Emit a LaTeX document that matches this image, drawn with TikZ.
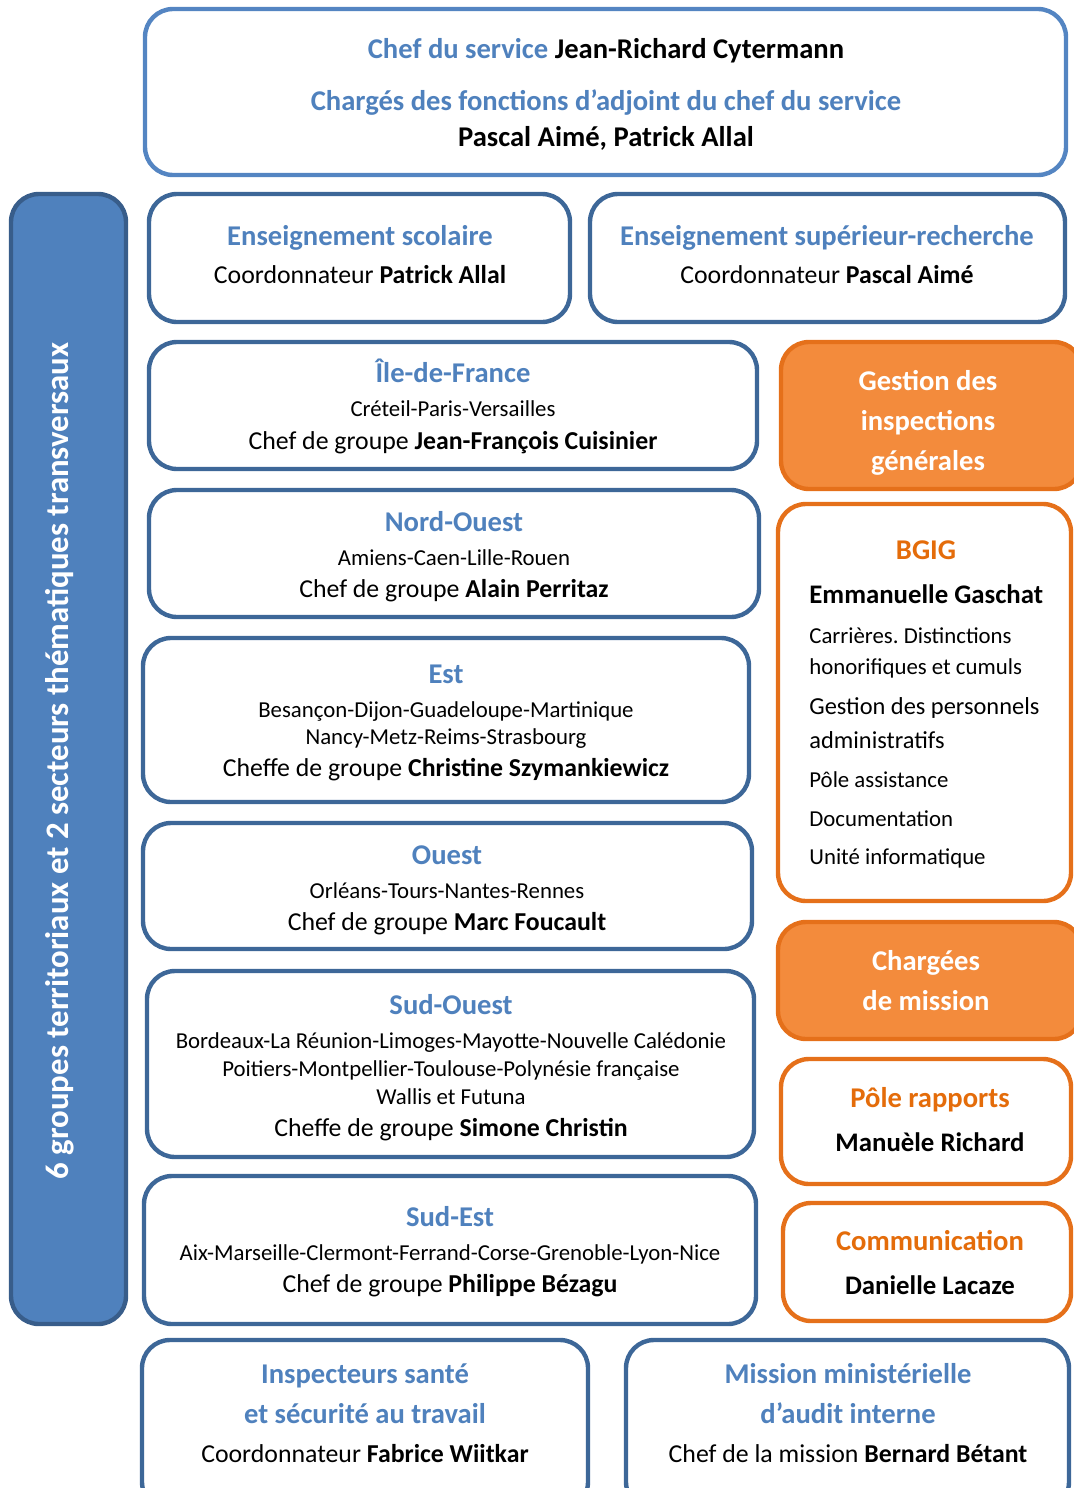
\documentclass[tikz,border=0pt]{standalone}
\usepackage{fontspec}
\setmainfont{Carlito}
\usetikzlibrary{positioning}
\frenchspacing

\definecolor{ttlblue}{HTML}{4F81BD}
\definecolor{lineblue}{HTML}{3D6798}
\definecolor{topblue}{HTML}{5485C2}
\definecolor{barfill}{HTML}{4F81BD}
\definecolor{bardraw}{HTML}{385D8A}
\definecolor{orfill}{HTML}{F38B3C}
\definecolor{ordraw}{HTML}{E5701A}
\definecolor{ortext}{HTML}{E46C0A}

\tikzset{
 box/.style={line width=2.2pt, rounded corners=14pt},
 topbox/.style={box, draw=topblue, fill=white},
 bluebox/.style={box, draw=lineblue, fill=white},
 sidebar/.style={box, draw=bardraw, fill=barfill},
 orbox/.style={box, draw=ordraw, fill=white},
 orfull/.style={box, draw=ordraw, fill=orfill},
 ttl/.style={font=\bfseries\fontsize{14.3}{17}\selectfont, text=ttlblue,
   anchor=base, yshift=-4.4pt, inner sep=0pt},
 ortl/.style={ttl, text=ortext},
 wtl/.style={ttl, text=white},
 who/.style={font=\fontsize{12.9}{15}\selectfont, anchor=base, yshift=-3.9pt, inner sep=0pt},
 boss/.style={who, font=\bfseries\fontsize{13.4}{16}\selectfont},
 town/.style={font=\fontsize{11.4}{13}\selectfont, anchor=base, yshift=-3.4pt, inner sep=0pt},
 item/.style={town, anchor=base west},
 bigitem/.style={town, font=\fontsize{12.2}{15}\selectfont, anchor=base west},
}

\begin{document}
\begin{tikzpicture}[x=0.5pt,y=-0.5pt]
\useasboundingbox (0,0) rectangle (1074,1488);
\clip (0,0) rectangle (1074,1488);

% direction du service
\draw[topbox] (145,9) rectangle (1066,175);
\node[ttl] (chef) at (606,50) {Chef du service \textcolor{black}{Jean-Richard Cytermann}};
\node[ttl] (adj) at (606,102) {Chargés des fonctions d’adjoint du chef du service};
\node[ttl, text=black] (adjn) at (606,138) {Pascal Aimé, Patrick Allal};

% bandeau vertical
\draw[sidebar] (11,194) rectangle (126,1324);
\node[wtl, anchor=center, yshift=0pt, rotate=90, font=\bfseries\fontsize{16.4}{19}\selectfont]
  (groupes) at (60,752) {6 groupes territoriaux et 2 secteurs thématiques transversaux};

% secteurs thematiques
\draw[bluebox] (149,194) rectangle (570,322);
\node[ttl] (scol) at (360,237) {Enseignement scolaire};
\node[who] (scoln) at (360,276) {Coordonnateur \textbf{Patrick Allal}};
\draw[bluebox] (590,194) rectangle (1065,322);
\node[ttl] (sup) at (827,237) {Enseignement supérieur-recherche};
\node[who] (supn) at (827,276) {Coordonnateur \textbf{Pascal Aimé}};

% groupes territoriaux
\draw[bluebox] (149,342) rectangle (757,469);
\node[ttl] (idf) at (453,374) {Île-de-France};
\node[town] (idfv) at (453,410) {Créteil-Paris-Versailles};
\node[who] (idfn) at (453,442) {Chef de groupe \textbf{Jean-François Cuisinier}};

\draw[bluebox] (149,490) rectangle (759,617);
\node[ttl] (no) at (454,523) {Nord-Ouest};
\node[town] (nov) at (454,559) {Amiens-Caen-Lille-Rouen};
\node[who] (non) at (454,590) {Chef de groupe \textbf{Alain Perritaz}};

\draw[bluebox] (143,638) rectangle (749,802);
\node[ttl] (est) at (446,675) {Est};
\node[town] (estv) at (446,711) {Besançon-Dijon-Guadeloupe-Martinique};
\node[town] (estw) at (446,738) {Nancy-Metz-Reims-Strasbourg};
\node[who] (estn) at (446,769) {Cheffe de groupe \textbf{Christine Szymankiewicz}};

\draw[bluebox] (143,823) rectangle (752,949);
\node[ttl] (ou) at (447,856) {Ouest};
\node[town] (ouv) at (447,892) {Orléans-Tours-Nantes-Rennes};
\node[who] (oun) at (447,923) {Chef de groupe \textbf{Marc Foucault}};

\draw[bluebox] (147,971) rectangle (754,1157);
\node[ttl] (so) at (451,1006) {Sud-Ouest};
\node[town] (sov) at (451,1042) {Bordeaux-La Réunion-Limoges-Mayotte-Nouvelle Calédonie};
\node[town] (sow) at (451,1070) {Poitiers-Montpellier-Toulouse-Polynésie française};
\node[town] (sox) at (451,1098) {Wallis et Futuna};
\node[who] (son) at (451,1129) {Cheffe de groupe \textbf{Simone Christin}};

\draw[bluebox] (144,1176) rectangle (756,1324);
\node[ttl] (se) at (450,1218) {Sud-Est};
\node[town] (sev) at (450,1254) {Aix-Marseille-Clermont-Ferrand-Corse-Grenoble-Lyon-Nice};
\node[who] (sen) at (450,1285) {Chef de groupe \textbf{Philippe Bézagu}};

% colonne de droite
\draw[orfull] (781,342) rectangle (1082,489);
\node[wtl] (gig) at (928,382) {Gestion des};
\node[wtl] (gig2) at (928,422) {inspections};
\node[wtl] (gig3) at (928,462) {générales};

\draw[orbox] (778,504) rectangle (1071,901);
\node[ortl] (bgig) at (926,551) {BGIG};
\node[boss, anchor=base west] (bgign) at (809,596) {Emmanuelle Gaschat};
\node[item] (b1) at (809,637) {Carrières. Distinctions};
\node[item] (b2) at (809,668) {honorifiques et cumuls};
\node[bigitem] (b3) at (809,708) {Gestion des personnels};
\node[bigitem] (b4) at (809,742) {administratifs};
\node[item] (b5) at (809,781) {Pôle assistance};
\node[item] (b6) at (809,820) {Documentation};
\node[item] (b7) at (809,858) {Unité informatique};

\draw[orfull] (778,922) rectangle (1082,1039);
\node[wtl] (cm) at (926,962) {Chargées};
\node[wtl] (cm2) at (926,1002) {de mission};

\draw[orbox] (781,1059) rectangle (1071,1184);
\node[ortl] (rap) at (930,1099) {Pôle rapports};
\node[boss] (rapn) at (930,1144) {Manuèle Richard};

\draw[orbox] (783,1203) rectangle (1071,1321);
\node[ortl] (com) at (930,1242) {Communication};
\node[boss] (comn) at (930,1287) {Danielle Lacaze};

% missions du bas
\draw[bluebox] (142,1340) rectangle (588,1510);
\node[ttl] (sst) at (365,1375) {Inspecteurs santé};
\node[ttl] (sst2) at (365,1415) {et sécurité au travail};
\node[who] (sstn) at (365,1455) {Coordonnateur \textbf{Fabrice Wiitkar}};

\draw[bluebox] (626,1340) rectangle (1069,1510);
\node[ttl] (mmai) at (848,1375) {Mission ministérielle};
\node[ttl] (mmai2) at (848,1415) {d’audit interne};
\node[who] (mmain) at (848,1455) {Chef de la mission \textbf{Bernard Bétant}};
\end{tikzpicture}
\end{document}
